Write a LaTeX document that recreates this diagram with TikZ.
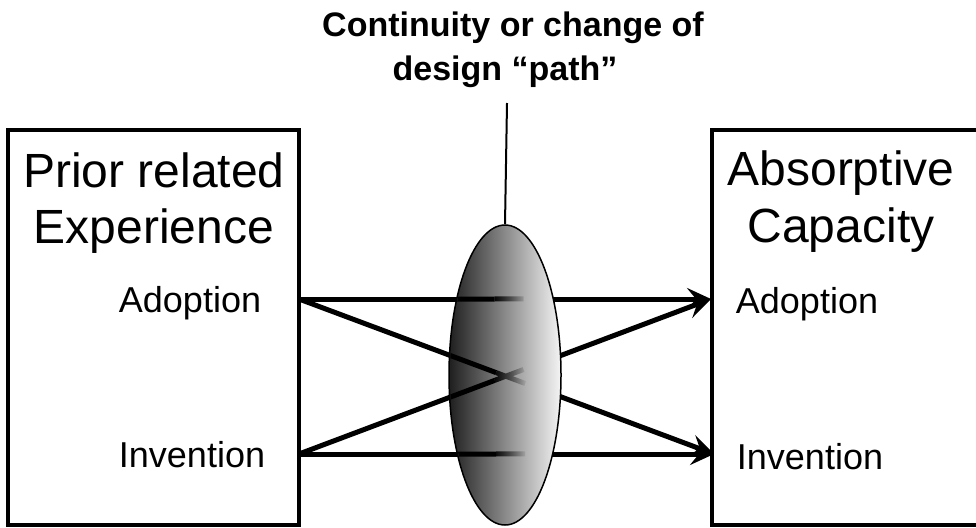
\documentclass[tikz,border=0pt]{standalone}
\usepackage{fontspec}
\setmainfont{Liberation Sans}
\usetikzlibrary{arrows.meta,shapes.geometric,fadings,calc}

\tikzfading[name=lensfade, left color=transparent!0, right color=transparent!100]

\begin{document}
\begin{tikzpicture}[x=1pt,y=-1pt,
  headtext/.style={font=\fontsize{48}{58}\selectfont, anchor=base, inner sep=0pt},
  itemtext/.style={font=\fontsize{36}{43}\selectfont, anchor=base, inner sep=0pt},
  flow/.style={line width=5pt, -{Stealth[length=24pt, width=22pt, inset=9pt]}}]
\useasboundingbox (0,0) rectangle (976,527);
% boxes
\node[draw, line width=3.5pt, minimum width=291pt, minimum height=395pt, inner sep=0pt] (prior) at (153.5,327.5) {};
\node[draw, line width=3.5pt, minimum width=273pt, minimum height=395pt, inner sep=0pt] (absorb) at (848.5,327.5) {};
\node[headtext] (prior1) at (154,187) {Prior related};
\node[headtext] (prior2) at (154,243) {Experience};
\node[headtext] (absorb1) at (841,185) {Absorptive};
\node[headtext] (absorb2) at (841,242) {Capacity};
\node[itemtext] (adoptL) at (190,312) {Adoption};
\node[itemtext] (inventL) at (192,467) {Invention};
\node[itemtext] (adoptR) at (807,313) {Adoption};
\node[itemtext] (inventR) at (810,469) {Invention};
% paths
\coordinate (outA) at (299,299);
\coordinate (outI) at (299,454);
\coordinate (inA) at (711,299);
\coordinate (inI) at (714,454);
\draw[flow] (outA) -- (inA);
\draw[flow] (outA) -- (inI);
\draw[flow] (outI) -- (inA);
\draw[flow] (outI) -- (inI);
% lens
\node[ellipse, draw, line width=1.5pt, minimum width=112pt, minimum height=300pt, inner sep=0pt,
  left color=black!88, right color=black!4] (lens) at (505,375) {};
\begin{scope}
\clip (505,375) ellipse [x radius=55, y radius=149];
\draw[line width=5pt]
  ($(outA)!0.34!(inA)$) -- ($(outA)!0.475!(inA)$)
  ($(outI)!0.34!(inI)$) -- ($(outI)!0.475!(inI)$)
  ($(outA)!0.34!(inI)$) -- ($(outA)!0.475!(inI)$)
  ($(outI)!0.34!(inA)$) -- ($(outI)!0.475!(inA)$);
\draw[line width=5pt, path fading=lensfade]
  ($(outA)!0.475!(inA)$) -- ($(outA)!0.545!(inA)$)
  ($(outI)!0.475!(inI)$) -- ($(outI)!0.545!(inI)$)
  ($(outA)!0.475!(inI)$) -- ($(outA)!0.545!(inI)$)
  ($(outI)!0.475!(inA)$) -- ($(outI)!0.545!(inA)$);
\end{scope}
% caption
\coordinate (stemtop) at (507,103);
\draw[line width=2pt] (lens.north) -- (stemtop);
\node[font=\bfseries\fontsize{34}{43}\selectfont, anchor=base, inner sep=0pt] (topic1) at (513,37) {Continuity or change of};
\node[font=\bfseries\fontsize{34}{43}\selectfont, anchor=base, inner sep=0pt] (topic2) at (505,80) {design “path”};
\end{tikzpicture}
\end{document}
